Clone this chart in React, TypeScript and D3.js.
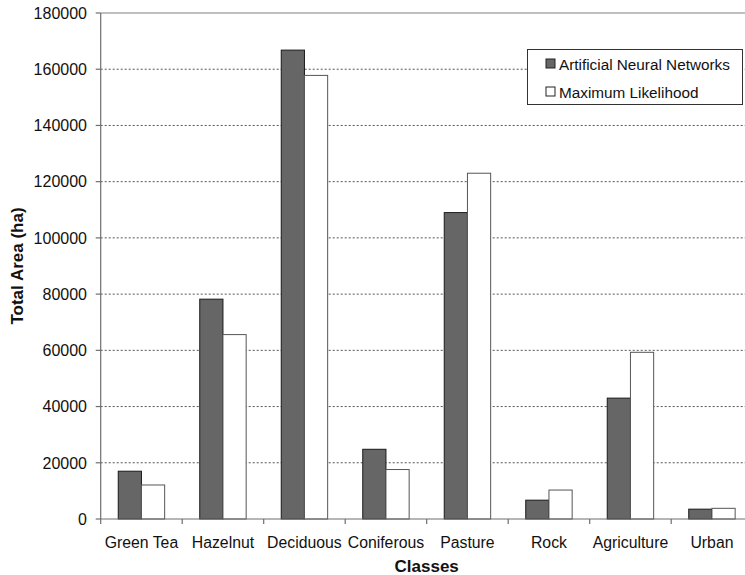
import React from "react";
import * as d3 from "d3";

const categories = ["Green Tea", "Hazelnut", "Deciduous", "Coniferous", "Pasture", "Rock", "Agriculture", "Urban"];
const seriesNames = ["Artificial Neural Networks", "Maximum Likelihood"];
const annValues = [17000, 78200, 166800, 24800, 109000, 6700, 43000, 3500];
const mlValues = [12100, 65600, 157800, 17600, 123000, 10300, 59300, 3800];
const yTicks = [0, 20000, 40000, 60000, 80000, 100000, 120000, 140000, 160000, 180000];

const W = 745;
const H = 575;
const FONT = "'Liberation Sans', Arial, Helvetica, sans-serif";

export default function App() {
  const left = 100.7;
  const top = 13;
  const bottom = 519;
  const right = left + 81.5 * categories.length;

  const y = d3.scaleLinear().domain([0, 180000]).range([bottom, top]);
  const x = d3.scaleBand<string>().domain(categories).range([left, right]).padding(0);
  const xi = d3
    .scaleBand<string>()
    .domain(seriesNames)
    .range([0, x.bandwidth()])
    .paddingInner(0)
    .paddingOuter(0.756);

  const series = [
    { name: seriesNames[0], values: annValues, fill: "#666666", stroke: "#1a1a1a" },
    { name: seriesNames[1], values: mlValues, fill: "#ffffff", stroke: "#555555" },
  ];

  return (
    <svg
      width={W}
      height={H}
      style={{ position: "absolute", left: 0, top: 0, background: "#fff" }}
      fontFamily={FONT}
    >
      <rect x={0} y={0} width={W} height={H} fill="#fff" />
      {yTicks
        .filter((t) => t !== 0 && t !== 180000)
        .map((t) => (
          <line
            key={"g" + t}
            x1={left}
            x2={W}
            y1={y(t)}
            y2={y(t)}
            stroke="#555"
            strokeWidth={1}
            strokeDasharray="2,2"
          />
        ))}
      <line x1={left} x2={W} y1={y(180000)} y2={y(180000)} stroke="#808080" strokeWidth={1.2} />
      {series.map((s) =>
        categories.map((c, i) => {
          const bx = (x(c) as number) + (xi(s.name) as number);
          const by = y(s.values[i]);
          return (
            <rect
              key={s.name + c}
              x={bx}
              y={by}
              width={xi.bandwidth()}
              height={bottom - by}
              fill={s.fill}
              stroke={s.stroke}
              strokeWidth={1}
            />
          );
        })
      )}
      <line x1={left} x2={left} y1={top} y2={bottom + 5} stroke="#6e6e6e" strokeWidth={1.2} />
      {yTicks.map((t) => (
        <g key={"t" + t}>
          <line x1={left - 5} x2={left} y1={y(t)} y2={y(t)} stroke="#6e6e6e" strokeWidth={1.2} />
          <text x={87} y={y(t)} dy="0.36em" textAnchor="end" fontSize={16} fill="#111">
            {t}
          </text>
        </g>
      ))}
      <line x1={left} x2={W} y1={bottom} y2={bottom} stroke="#6e6e6e" strokeWidth={1.2} />
      {categories.map((c, i) => (
        <g key={"x" + c}>
          {i > 0 && (
            <line
              x1={x(c) as number}
              x2={x(c) as number}
              y1={bottom}
              y2={bottom + 5}
              stroke="#6e6e6e"
              strokeWidth={1.2}
            />
          )}
          <text
            x={(x(c) as number) + x.bandwidth() / 2}
            y={548}
            textAnchor="middle"
            fontSize={15.8}
            fill="#111"
          >
            {c}
          </text>
        </g>
      ))}
      <text x={(left + right) / 2} y={572} textAnchor="middle" fontSize={17} fontWeight="bold" fill="#111">
        Classes
      </text>
      <text
        transform={`translate(23, ${(top + bottom) / 2}) rotate(-90)`}
        textAnchor="middle"
        fontSize={17}
        fontWeight="bold"
        fill="#111"
      >
        Total Area (ha)
      </text>
      <rect x={527.5} y={49.5} width={215} height={55} fill="#fff" stroke="#333" strokeWidth={1} />
      {series.map((s, i) => (
        <g key={"l" + s.name} transform={`translate(546, ${64 + i * 28})`}>
          <rect x={0} y={-5} width={9} height={9} fill={s.fill} stroke="#222" strokeWidth={1} />
          <text x={13} y={0} dy="0.36em" fontSize={15.3} fill="#111">
            {s.name}
          </text>
        </g>
      ))}
    </svg>
  );
}
